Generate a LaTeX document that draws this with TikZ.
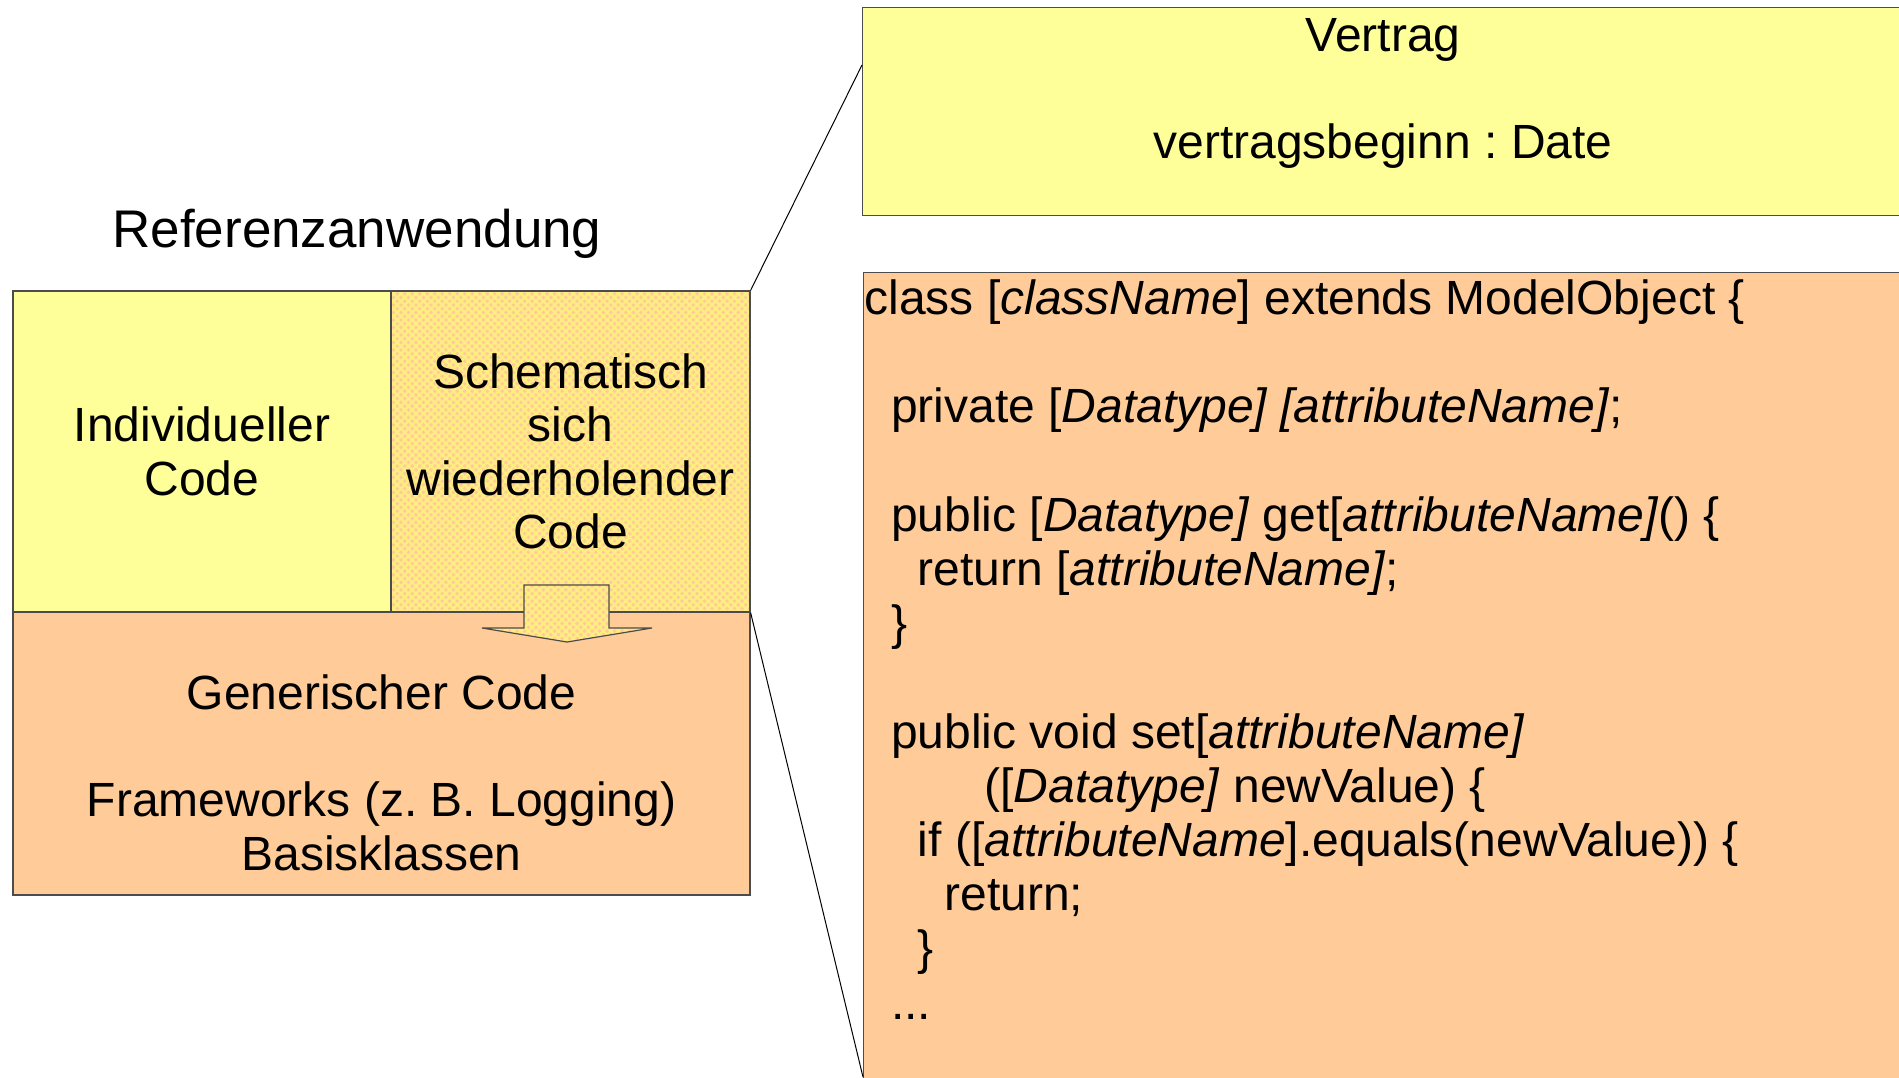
\documentclass[tikz,border=0pt]{standalone}
\usepackage{fontspec}
\setmainfont{Liberation Sans}
\usetikzlibrary{positioning,patterns.meta,calc}
\definecolor{umlyellow}{RGB}{255,255,153}
\definecolor{codeorange}{RGB}{255,204,153}
\definecolor{hatchyellow}{RGB}{255,238,128}
\newcommand{\ind}[1]{\hspace*{#1\fontdimen2\font}}
\frenchspacing

\begin{document}
\begin{tikzpicture}[
        x=0.5pt, y=-0.5pt,
        box/.style={rectangle, draw=black!70, line width=0.6pt, inner sep=0pt, align=center, font=\fontsize{24}{26.7}\selectfont},
        txt/.style={inner sep=0pt, align=center, font=\fontsize{24}{26.7}\selectfont},
        hatched/.style={preaction={fill=codeorange},
            preaction={pattern={Lines[angle=45,distance=2.65pt,line width=1.1pt]}, pattern color=hatchyellow},
            preaction={pattern={Lines[angle=-45,distance=2.65pt,line width=1.1pt]}, pattern color=hatchyellow}},
        link/.style={black, line width=0.5pt}
    ]
        \clip (0,0) rectangle (1899,1077);

        % Left: reference application
        \node[txt, font=\fontsize{26.5}{30}\selectfont, anchor=base] (title) at (357,247) {Referenzanwendung};
        \node[box, fill=umlyellow, minimum width=189pt, minimum height=160.5pt] (individ) at (202,451.5) {Individueller\\Code};
        \node[box, hatched, minimum width=179.5pt, minimum height=160.5pt] (schema) at (570.5,451.5) {Schematisch\\sich\\wiederholender\\Code};
        \node[box, fill=codeorange, minimum width=368.5pt, minimum height=141.5pt] (generic) at (381.5,753.5) {};
        \node[txt, anchor=base] (generic-text) at (381.5,870) {Generischer Code\\[26.7pt]Frameworks (z. B. Logging)\\Basisklassen};

        % Arrow into generic code
        \draw[black!70, line width=0.6pt, hatched] (524,585) -- (524,628) -- (482,628) -- (567,642) -- (652,628) -- (609,628) -- (609,585) -- cycle;

        % Right: class model and template
        \node[box, fill=umlyellow, minimum width=530pt, minimum height=104pt, anchor=north west] (vertrag) at (862,7) {};
        \node[txt, anchor=base] (vertrag-text) at (1383,158) {Vertrag\\[26.7pt]vertragsbeginn : Date};

        \node[box, fill=codeorange, minimum width=530pt, minimum height=420pt, anchor=north west] (code) at (863,272) {};
        \node[txt, align=left, anchor=base west, font=\fontsize{24}{27.1}\selectfont] (code-text) at (864,1019) {%
            class [\textit{className}] extends ModelObject \{\\[27.1pt]
            \ind{2}private [\textit{Datatype] [attributeName]};\\[27.1pt]
            \ind{2}public [\textit{Datatype]} get[\textit{attributeName]}() \{\\
            \ind{4}return [\textit{attributeName]};\\
            \ind{2}\}\\[27.1pt]
            \ind{2}public void set[\textit{attributeName]}\\
            \ind{9}([\textit{Datatype]} newValue) \{\\
            \ind{4}if ([\textit{attributeName}].equals(newValue)) \{\\
            \ind{6}return;\\
            \ind{4}\}\\
            \ind{2}...};

        % Zoom lines
        \coordinate (vtop) at (862,65);
        \coordinate (cbot) at (863,1077);
        \draw[link] (schema.north east) -- (vtop);
        \draw[link] (schema.south east) -- (cbot);
    \end{tikzpicture}
\end{document}
